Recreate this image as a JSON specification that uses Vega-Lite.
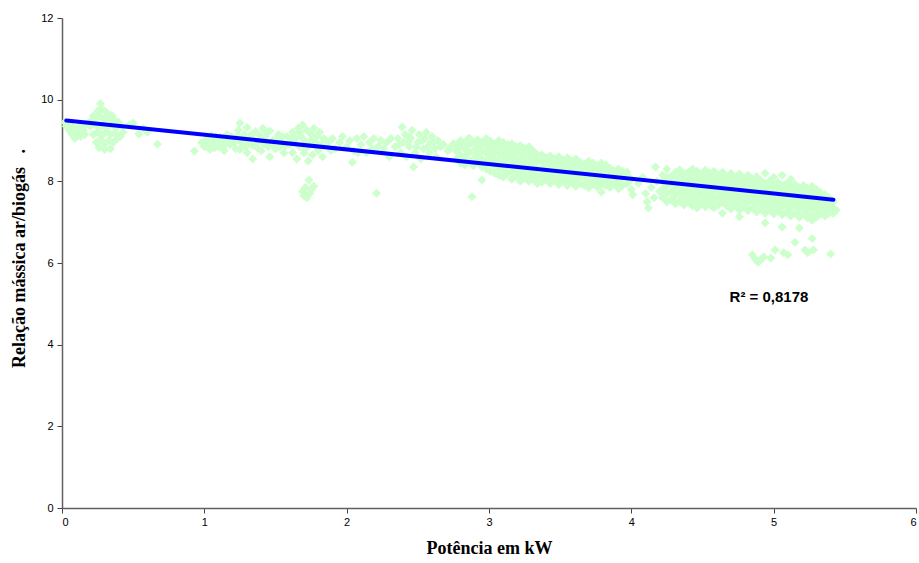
{
"$schema":"https://vega.github.io/schema/vega-lite/v6.json",
"width":854,"height":490,
"autosize":{"type":"none"},
"padding":{"left":62,"top":18,"right":3,"bottom":55},
"background":"white",
"config":{"view":{"stroke":null},"axis":{"grid":false,"domainColor":"#606060","domainWidth":1.5,"tickColor":"#404040","tickSize":5,"labelFont":"Liberation Sans","labelFontSize":11,"labelColor":"#000000","titleFont":"Liberation Serif","titleFontSize":18,"titleFontWeight":"bold","titleColor":"#000000"}},
"datasets":{
"pts":[
{"kw":0.02,"rel":9.45},{"kw":0.03,"rel":9.35},{"kw":0.05,"rel":9.25},{"kw":0.06,"rel":9.4},{"kw":0.07,"rel":9.15},{"kw":0.08,"rel":9.3},{"kw":0.1,"rel":9.2},{"kw":0.09,"rel":9.05},{"kw":0.12,"rel":9.35},{"kw":0.13,"rel":9.1},{"kw":0.15,"rel":9.25},{"kw":0.17,"rel":9.4},{"kw":0.16,"rel":9.15},
{"kw":0.27,"rel":9.9},{"kw":0.25,"rel":9.72},{"kw":0.28,"rel":9.78},{"kw":0.31,"rel":9.7},{"kw":0.22,"rel":9.6},{"kw":0.35,"rel":9.62},
{"kw":0.21,"rel":9.5},{"kw":0.24,"rel":9.55},{"kw":0.27,"rel":9.58},{"kw":0.3,"rel":9.52},{"kw":0.33,"rel":9.55},{"kw":0.37,"rel":9.5},{"kw":0.4,"rel":9.45},
{"kw":0.2,"rel":9.35},{"kw":0.23,"rel":9.4},{"kw":0.26,"rel":9.3},{"kw":0.29,"rel":9.38},{"kw":0.32,"rel":9.33},{"kw":0.35,"rel":9.4},{"kw":0.38,"rel":9.3},{"kw":0.42,"rel":9.35},
{"kw":0.22,"rel":9.15},{"kw":0.25,"rel":9.2},{"kw":0.28,"rel":9.12},{"kw":0.31,"rel":9.22},{"kw":0.34,"rel":9.15},{"kw":0.37,"rel":9.18},{"kw":0.41,"rel":9.1},{"kw":0.43,"rel":9.2},
{"kw":0.24,"rel":8.95},{"kw":0.27,"rel":9.02},{"kw":0.3,"rel":8.92},{"kw":0.33,"rel":9.0},{"kw":0.36,"rel":8.95},{"kw":0.39,"rel":9.05},
{"kw":0.26,"rel":8.82},{"kw":0.3,"rel":8.78},{"kw":0.34,"rel":8.8},
{"kw":0.47,"rel":9.38},{"kw":0.5,"rel":9.43},{"kw":0.54,"rel":9.16},{"kw":0.6,"rel":9.2},{"kw":0.57,"rel":9.3},{"kw":0.67,"rel":8.91},
{"kw":0.93,"rel":8.74},{"kw":0.98,"rel":8.95},{"kw":1.0,"rel":8.85},{"kw":1.02,"rel":9.05},{"kw":1.04,"rel":8.78},{"kw":1.06,"rel":8.95},{"kw":1.08,"rel":9.1},{"kw":1.1,"rel":8.85},{"kw":1.12,"rel":9.0},{"kw":1.14,"rel":8.75},{"kw":1.16,"rel":9.15},{"kw":1.18,"rel":8.9},{"kw":1.2,"rel":9.05},{"kw":1.22,"rel":8.8},{"kw":1.24,"rel":9.25},{"kw":1.25,"rel":9.43},{"kw":1.26,"rel":8.95},{"kw":1.28,"rel":9.15},{"kw":1.3,"rel":8.7},{"kw":1.3,"rel":9.32},{"kw":1.32,"rel":9.05},{"kw":1.34,"rel":8.55},{"kw":1.34,"rel":8.88},{"kw":1.36,"rel":9.22},{"kw":1.38,"rel":8.98},{"kw":1.4,"rel":8.75},{"kw":1.41,"rel":9.3},{"kw":1.43,"rel":9.1},{"kw":1.45,"rel":8.85},{"kw":1.46,"rel":9.23},{"kw":1.46,"rel":8.6},{"kw":1.48,"rel":9.0},{"kw":1.5,"rel":8.8},{"kw":1.52,"rel":9.15},{"kw":1.54,"rel":8.95},{"kw":1.56,"rel":8.7},{"kw":1.58,"rel":9.1},
{"kw":1.03,"rel":8.9},{"kw":1.07,"rel":8.82},{"kw":1.11,"rel":9.08},{"kw":1.15,"rel":8.92},{"kw":1.19,"rel":9.1},{"kw":1.21,"rel":8.95},{"kw":1.27,"rel":9.05},{"kw":1.29,"rel":8.85},{"kw":1.33,"rel":9.15},{"kw":1.37,"rel":8.82},{"kw":1.39,"rel":9.12},{"kw":1.42,"rel":8.92},{"kw":1.44,"rel":9.2},{"kw":1.47,"rel":8.9},{"kw":1.51,"rel":9.05},{"kw":1.53,"rel":8.85},{"kw":1.55,"rel":9.1},{"kw":1.57,"rel":8.88},{"kw":1.13,"rel":8.85},{"kw":1.17,"rel":9.0},{"kw":1.23,"rel":9.1},{"kw":1.31,"rel":8.95},{"kw":1.35,"rel":9.0},{"kw":1.25,"rel":8.78},{"kw":1.09,"rel":8.95},{"kw":1.05,"rel":9.12},{"kw":1.01,"rel":8.98},
{"kw":1.6,"rel":8.9},{"kw":1.62,"rel":9.2},{"kw":1.62,"rel":8.7},{"kw":1.64,"rel":9.05},{"kw":1.65,"rel":8.55},{"kw":1.66,"rel":9.3},{"kw":1.67,"rel":8.85},{"kw":1.68,"rel":9.1},{"kw":1.69,"rel":9.38},{"kw":1.7,"rel":8.7},{"kw":1.71,"rel":8.98},{"kw":1.72,"rel":9.25},{"kw":1.73,"rel":8.5},{"kw":1.74,"rel":8.88},{"kw":1.75,"rel":9.15},{"kw":1.76,"rel":8.65},{"kw":1.77,"rel":9.3},{"kw":1.78,"rel":8.95},{"kw":1.79,"rel":9.1},{"kw":1.8,"rel":8.75},{"kw":1.81,"rel":9.2},{"kw":1.82,"rel":8.9},{"kw":1.83,"rel":8.6},{"kw":1.84,"rel":9.05},{"kw":1.63,"rel":8.95},{"kw":1.67,"rel":9.2},{"kw":1.71,"rel":8.8},{"kw":1.75,"rel":9.0},{"kw":1.79,"rel":8.85},{"kw":1.61,"rel":9.05},
{"kw":1.69,"rel":7.75},{"kw":1.71,"rel":7.85},{"kw":1.72,"rel":7.6},{"kw":1.735,"rel":8.03},{"kw":1.75,"rel":7.8},{"kw":1.77,"rel":7.88},{"kw":1.7,"rel":7.65},{"kw":1.74,"rel":7.7},
{"kw":1.87,"rel":8.95},{"kw":1.9,"rel":9.05},{"kw":1.92,"rel":8.8},{"kw":1.95,"rel":8.95},{"kw":1.97,"rel":9.1},{"kw":2.0,"rel":8.85},{"kw":2.02,"rel":9.0},{"kw":2.04,"rel":8.47},{"kw":2.05,"rel":8.75},{"kw":2.07,"rel":9.05},{"kw":2.1,"rel":8.9},{"kw":2.12,"rel":9.1},{"kw":2.14,"rel":8.7},{"kw":2.16,"rel":8.95},{"kw":2.19,"rel":9.05},{"kw":2.21,"rel":7.71},{"kw":2.22,"rel":8.85},{"kw":2.24,"rel":9.0},{"kw":2.26,"rel":8.8},{"kw":2.28,"rel":8.95},{"kw":2.3,"rel":8.6},{"kw":2.31,"rel":9.05},{"kw":1.89,"rel":8.75},{"kw":2.08,"rel":8.7},{"kw":2.18,"rel":8.8},
{"kw":2.34,"rel":8.85},{"kw":2.36,"rel":9.05},{"kw":2.38,"rel":8.7},{"kw":2.39,"rel":9.33},{"kw":2.4,"rel":8.95},{"kw":2.41,"rel":9.15},{"kw":2.42,"rel":8.6},{"kw":2.44,"rel":8.85},{"kw":2.45,"rel":9.05},{"kw":2.46,"rel":9.25},{"kw":2.47,"rel":8.35},{"kw":2.48,"rel":8.7},{"kw":2.5,"rel":8.95},{"kw":2.51,"rel":9.15},{"kw":2.52,"rel":8.55},{"kw":2.54,"rel":8.8},{"kw":2.55,"rel":9.05},{"kw":2.56,"rel":9.2},{"kw":2.58,"rel":8.7},{"kw":2.59,"rel":8.95},{"kw":2.6,"rel":9.1},{"kw":2.62,"rel":8.8},{"kw":2.63,"rel":8.6},{"kw":2.64,"rel":9.0},{"kw":2.66,"rel":8.85},{"kw":2.43,"rel":8.95},{"kw":2.49,"rel":8.85},{"kw":2.53,"rel":9.0},{"kw":2.57,"rel":8.85},{"kw":2.61,"rel":8.95},{"kw":2.37,"rel":8.9},{"kw":2.44,"rel":9.1},
{"kw":2.68,"rel":8.9},{"kw":2.71,"rel":8.75},{"kw":2.73,"rel":8.84},{"kw":2.75,"rel":8.92},
{"kw":2.77,"rel":8.55},{"kw":2.77,"rel":8.75},{"kw":2.77,"rel":8.9},
{"kw":2.8,"rel":8.45},{"kw":2.8,"rel":8.65},{"kw":2.8,"rel":8.85},{"kw":2.8,"rel":9.0},
{"kw":2.83,"rel":8.4},{"kw":2.83,"rel":8.6},{"kw":2.83,"rel":8.8},{"kw":2.83,"rel":8.95},
{"kw":2.86,"rel":8.5},{"kw":2.86,"rel":8.7},{"kw":2.86,"rel":8.9},{"kw":2.86,"rel":9.06},
{"kw":2.89,"rel":8.38},{"kw":2.89,"rel":8.55},{"kw":2.89,"rel":8.75},{"kw":2.89,"rel":8.95},
{"kw":2.92,"rel":8.45},{"kw":2.92,"rel":8.65},{"kw":2.92,"rel":8.85},{"kw":2.92,"rel":9.02},
{"kw":2.95,"rel":8.03},{"kw":2.95,"rel":8.35},{"kw":2.95,"rel":8.55},{"kw":2.95,"rel":8.75},{"kw":2.95,"rel":8.95},
{"kw":2.98,"rel":8.3},{"kw":2.98,"rel":8.5},{"kw":2.98,"rel":8.7},{"kw":2.98,"rel":8.88},{"kw":2.98,"rel":9.05},
{"kw":3.01,"rel":8.25},{"kw":3.01,"rel":8.45},{"kw":3.01,"rel":8.62},{"kw":3.01,"rel":8.8},{"kw":3.01,"rel":8.98},
{"kw":3.04,"rel":8.2},{"kw":3.04,"rel":8.38},{"kw":3.04,"rel":8.55},{"kw":3.04,"rel":8.72},{"kw":3.04,"rel":8.9},
{"kw":3.07,"rel":8.15},{"kw":3.07,"rel":8.32},{"kw":3.07,"rel":8.5},{"kw":3.07,"rel":8.68},{"kw":3.07,"rel":8.85},{"kw":3.07,"rel":9.0},
{"kw":3.1,"rel":8.1},{"kw":3.1,"rel":8.28},{"kw":3.1,"rel":8.45},{"kw":3.1,"rel":8.62},{"kw":3.1,"rel":8.8},{"kw":3.1,"rel":8.95},
{"kw":3.13,"rel":8.2},{"kw":3.13,"rel":8.38},{"kw":3.13,"rel":8.55},{"kw":3.13,"rel":8.72},{"kw":3.13,"rel":8.9},
{"kw":3.16,"rel":8.05},{"kw":3.16,"rel":8.25},{"kw":3.16,"rel":8.42},{"kw":3.16,"rel":8.6},{"kw":3.16,"rel":8.78},{"kw":3.16,"rel":8.92},
{"kw":3.19,"rel":8.12},{"kw":3.19,"rel":8.3},{"kw":3.19,"rel":8.5},{"kw":3.19,"rel":8.68},{"kw":3.19,"rel":8.85},
{"kw":3.22,"rel":8.0},{"kw":3.22,"rel":8.2},{"kw":3.22,"rel":8.38},{"kw":3.22,"rel":8.55},{"kw":3.22,"rel":8.72},{"kw":3.22,"rel":8.88},
{"kw":3.25,"rel":8.08},{"kw":3.25,"rel":8.25},{"kw":3.25,"rel":8.45},{"kw":3.25,"rel":8.62},{"kw":3.25,"rel":8.8},
{"kw":3.28,"rel":8.0},{"kw":3.28,"rel":8.15},{"kw":3.28,"rel":8.33},{"kw":3.28,"rel":8.5},{"kw":3.28,"rel":8.68},{"kw":3.28,"rel":8.85},
{"kw":3.31,"rel":8.05},{"kw":3.31,"rel":8.22},{"kw":3.31,"rel":8.4},{"kw":3.31,"rel":8.58},{"kw":3.31,"rel":8.75},
{"kw":3.34,"rel":7.95},{"kw":3.34,"rel":8.12},{"kw":3.34,"rel":8.3},{"kw":3.34,"rel":8.48},{"kw":3.34,"rel":8.65},
{"kw":2.88,"rel":7.62},
{"kw":3.37,"rel":7.98},{"kw":3.37,"rel":8.15},{"kw":3.37,"rel":8.32},{"kw":3.37,"rel":8.5},{"kw":3.37,"rel":8.65},
{"kw":3.4,"rel":8.05},{"kw":3.4,"rel":8.22},{"kw":3.4,"rel":8.4},{"kw":3.4,"rel":8.58},
{"kw":3.43,"rel":7.95},{"kw":3.43,"rel":8.12},{"kw":3.43,"rel":8.3},{"kw":3.43,"rel":8.48},{"kw":3.43,"rel":8.62},
{"kw":3.46,"rel":8.02},{"kw":3.46,"rel":8.2},{"kw":3.46,"rel":8.38},{"kw":3.46,"rel":8.55},
{"kw":3.49,"rel":7.92},{"kw":3.49,"rel":8.1},{"kw":3.49,"rel":8.28},{"kw":3.49,"rel":8.45},{"kw":3.49,"rel":8.6},
{"kw":3.52,"rel":8.0},{"kw":3.52,"rel":8.18},{"kw":3.52,"rel":8.35},{"kw":3.52,"rel":8.52},
{"kw":3.55,"rel":7.9},{"kw":3.55,"rel":8.08},{"kw":3.55,"rel":8.25},{"kw":3.55,"rel":8.42},{"kw":3.55,"rel":8.58},
{"kw":3.58,"rel":7.98},{"kw":3.58,"rel":8.15},{"kw":3.58,"rel":8.32},{"kw":3.58,"rel":8.5},
{"kw":3.61,"rel":7.88},{"kw":3.61,"rel":8.05},{"kw":3.61,"rel":8.22},{"kw":3.61,"rel":8.4},{"kw":3.61,"rel":8.55},
{"kw":3.64,"rel":7.95},{"kw":3.64,"rel":8.12},{"kw":3.64,"rel":8.3},{"kw":3.64,"rel":8.47},
{"kw":3.67,"rel":7.9},{"kw":3.67,"rel":8.08},{"kw":3.67,"rel":8.25},{"kw":3.67,"rel":8.42},
{"kw":3.7,"rel":7.84},{"kw":3.7,"rel":8.0},{"kw":3.7,"rel":8.18},{"kw":3.7,"rel":8.35},{"kw":3.7,"rel":8.5},
{"kw":3.73,"rel":7.92},{"kw":3.73,"rel":8.1},{"kw":3.73,"rel":8.28},{"kw":3.73,"rel":8.45},
{"kw":3.76,"rel":7.86},{"kw":3.76,"rel":8.02},{"kw":3.76,"rel":8.2},{"kw":3.76,"rel":8.38},
{"kw":3.79,"rel":7.74},{"kw":3.79,"rel":7.95},{"kw":3.79,"rel":8.12},{"kw":3.79,"rel":8.3},{"kw":3.79,"rel":8.45},
{"kw":3.82,"rel":7.9},{"kw":3.82,"rel":8.05},{"kw":3.82,"rel":8.22},{"kw":3.82,"rel":8.4},
{"kw":3.85,"rel":7.85},{"kw":3.85,"rel":8.0},{"kw":3.85,"rel":8.15},{"kw":3.85,"rel":8.32},
{"kw":3.88,"rel":7.92},{"kw":3.88,"rel":8.08},{"kw":3.88,"rel":8.25},
{"kw":3.91,"rel":7.82},{"kw":3.91,"rel":8.0},{"kw":3.91,"rel":8.18},{"kw":3.91,"rel":8.3},
{"kw":3.94,"rel":7.9},{"kw":3.94,"rel":8.1},{"kw":3.94,"rel":8.25},
{"kw":3.97,"rel":7.95},{"kw":3.97,"rel":8.15},{"kw":3.97,"rel":8.23},
{"kw":4.0,"rel":7.8},{"kw":4.0,"rel":8.05},
{"kw":4.01,"rel":7.67},{"kw":4.05,"rel":7.95},{"kw":4.08,"rel":8.1},{"kw":4.1,"rel":7.7},{"kw":4.11,"rel":7.5},{"kw":4.12,"rel":7.35},{"kw":4.14,"rel":7.85},{"kw":4.17,"rel":8.35},{"kw":4.18,"rel":8.0},{"kw":4.2,"rel":7.75},{"kw":4.16,"rel":7.6},
{"kw":4.22,"rel":7.6},{"kw":4.22,"rel":7.8},{"kw":4.22,"rel":8.0},{"kw":4.22,"rel":8.15},
{"kw":4.25,"rel":7.5},{"kw":4.25,"rel":7.7},{"kw":4.25,"rel":7.9},{"kw":4.25,"rel":8.1},{"kw":4.25,"rel":8.3},
{"kw":4.28,"rel":7.55},{"kw":4.28,"rel":7.75},{"kw":4.28,"rel":7.95},{"kw":4.28,"rel":8.12},
{"kw":4.31,"rel":7.45},{"kw":4.31,"rel":7.65},{"kw":4.31,"rel":7.85},{"kw":4.31,"rel":8.05},{"kw":4.31,"rel":8.22},
{"kw":4.34,"rel":7.52},{"kw":4.34,"rel":7.72},{"kw":4.34,"rel":7.92},{"kw":4.34,"rel":8.1},{"kw":4.34,"rel":8.28},
{"kw":4.37,"rel":7.42},{"kw":4.37,"rel":7.62},{"kw":4.37,"rel":7.82},{"kw":4.37,"rel":8.0},{"kw":4.37,"rel":8.18},
{"kw":4.4,"rel":7.5},{"kw":4.4,"rel":7.7},{"kw":4.4,"rel":7.88},{"kw":4.4,"rel":8.05},{"kw":4.4,"rel":8.22},
{"kw":4.43,"rel":7.4},{"kw":4.43,"rel":7.6},{"kw":4.43,"rel":7.8},{"kw":4.43,"rel":7.98},{"kw":4.43,"rel":8.15},{"kw":4.43,"rel":8.3},
{"kw":4.46,"rel":7.35},{"kw":4.46,"rel":7.52},{"kw":4.46,"rel":7.72},{"kw":4.46,"rel":7.9},{"kw":4.46,"rel":8.08},{"kw":4.46,"rel":8.25},
{"kw":4.49,"rel":7.45},{"kw":4.49,"rel":7.65},{"kw":4.49,"rel":7.83},{"kw":4.49,"rel":8.0},{"kw":4.49,"rel":8.18},
{"kw":4.52,"rel":7.38},{"kw":4.52,"rel":7.55},{"kw":4.52,"rel":7.75},{"kw":4.52,"rel":7.93},{"kw":4.52,"rel":8.12},{"kw":4.52,"rel":8.28},
{"kw":4.55,"rel":7.45},{"kw":4.55,"rel":7.65},{"kw":4.55,"rel":7.85},{"kw":4.55,"rel":8.02},{"kw":4.55,"rel":8.2},
{"kw":4.58,"rel":7.35},{"kw":4.58,"rel":7.55},{"kw":4.58,"rel":7.75},{"kw":4.58,"rel":7.95},{"kw":4.58,"rel":8.12},{"kw":4.58,"rel":8.25},
{"kw":4.61,"rel":7.42},{"kw":4.61,"rel":7.62},{"kw":4.61,"rel":7.8},{"kw":4.61,"rel":8.0},{"kw":4.61,"rel":8.15},
{"kw":4.64,"rel":7.22},{"kw":4.64,"rel":7.5},{"kw":4.64,"rel":7.7},{"kw":4.64,"rel":7.88},{"kw":4.64,"rel":8.05},{"kw":4.64,"rel":8.22},
{"kw":4.67,"rel":7.4},{"kw":4.67,"rel":7.6},{"kw":4.67,"rel":7.78},{"kw":4.67,"rel":7.95},{"kw":4.67,"rel":8.12},
{"kw":4.7,"rel":7.32},{"kw":4.7,"rel":7.52},{"kw":4.7,"rel":7.7},{"kw":4.7,"rel":7.88},{"kw":4.7,"rel":8.05},{"kw":4.7,"rel":8.2},
{"kw":4.73,"rel":7.4},{"kw":4.73,"rel":7.6},{"kw":4.73,"rel":7.78},{"kw":4.73,"rel":7.95},{"kw":4.73,"rel":8.1},
{"kw":4.76,"rel":7.13},{"kw":4.76,"rel":7.3},{"kw":4.76,"rel":7.5},{"kw":4.76,"rel":7.68},{"kw":4.76,"rel":7.85},{"kw":4.76,"rel":8.02},{"kw":4.76,"rel":8.18},
{"kw":4.79,"rel":7.38},{"kw":4.79,"rel":7.58},{"kw":4.79,"rel":7.75},{"kw":4.79,"rel":7.92},{"kw":4.79,"rel":8.08},
{"kw":4.82,"rel":7.28},{"kw":4.82,"rel":7.48},{"kw":4.82,"rel":7.65},{"kw":4.82,"rel":7.82},{"kw":4.82,"rel":8.0},{"kw":4.82,"rel":8.15},
{"kw":4.85,"rel":7.35},{"kw":4.85,"rel":7.55},{"kw":4.85,"rel":7.72},{"kw":4.85,"rel":7.9},{"kw":4.85,"rel":8.05},
{"kw":4.88,"rel":7.25},{"kw":4.88,"rel":7.45},{"kw":4.88,"rel":7.62},{"kw":4.88,"rel":7.8},{"kw":4.88,"rel":7.98},{"kw":4.88,"rel":8.12},
{"kw":4.91,"rel":7.32},{"kw":4.91,"rel":7.52},{"kw":4.91,"rel":7.7},{"kw":4.91,"rel":7.88},{"kw":4.91,"rel":8.02},
{"kw":4.94,"rel":6.98},{"kw":4.94,"rel":7.22},{"kw":4.94,"rel":7.42},{"kw":4.94,"rel":7.6},{"kw":4.94,"rel":7.78},{"kw":4.94,"rel":7.95},{"kw":4.94,"rel":8.2},
{"kw":4.97,"rel":7.3},{"kw":4.97,"rel":7.5},{"kw":4.97,"rel":7.68},{"kw":4.97,"rel":7.85},{"kw":4.97,"rel":8.0},
{"kw":5.0,"rel":7.2},{"kw":5.0,"rel":7.4},{"kw":5.0,"rel":7.58},{"kw":5.0,"rel":7.75},{"kw":5.0,"rel":7.92},{"kw":5.0,"rel":8.1},
{"kw":5.03,"rel":7.28},{"kw":5.03,"rel":7.48},{"kw":5.03,"rel":7.65},{"kw":5.03,"rel":7.82},{"kw":5.03,"rel":7.98},
{"kw":5.06,"rel":6.88},{"kw":5.06,"rel":7.18},{"kw":5.06,"rel":7.38},{"kw":5.06,"rel":7.55},{"kw":5.06,"rel":7.72},{"kw":5.06,"rel":7.9},{"kw":5.06,"rel":8.15},
{"kw":5.09,"rel":7.25},{"kw":5.09,"rel":7.45},{"kw":5.09,"rel":7.62},{"kw":5.09,"rel":7.8},{"kw":5.09,"rel":7.95},
{"kw":5.12,"rel":7.15},{"kw":5.12,"rel":7.35},{"kw":5.12,"rel":7.52},{"kw":5.12,"rel":7.7},{"kw":5.12,"rel":7.88},{"kw":5.12,"rel":8.05},
{"kw":5.15,"rel":6.51},{"kw":5.15,"rel":7.22},{"kw":5.15,"rel":7.42},{"kw":5.15,"rel":7.6},{"kw":5.15,"rel":7.78},{"kw":5.15,"rel":7.92},
{"kw":5.18,"rel":6.86},{"kw":5.18,"rel":7.12},{"kw":5.18,"rel":7.32},{"kw":5.18,"rel":7.5},{"kw":5.18,"rel":7.68},{"kw":5.18,"rel":7.85},
{"kw":5.21,"rel":7.2},{"kw":5.21,"rel":7.4},{"kw":5.21,"rel":7.58},{"kw":5.21,"rel":7.75},{"kw":5.21,"rel":7.9},
{"kw":5.24,"rel":7.1},{"kw":5.24,"rel":7.3},{"kw":5.24,"rel":7.48},{"kw":5.24,"rel":7.65},{"kw":5.24,"rel":7.82},
{"kw":5.27,"rel":6.6},{"kw":5.27,"rel":7.05},{"kw":5.27,"rel":7.18},{"kw":5.27,"rel":7.38},{"kw":5.27,"rel":7.55},{"kw":5.27,"rel":7.72},{"kw":5.27,"rel":7.88},
{"kw":5.3,"rel":7.12},{"kw":5.3,"rel":7.3},{"kw":5.3,"rel":7.48},{"kw":5.3,"rel":7.65},{"kw":5.3,"rel":7.8},
{"kw":5.33,"rel":7.2},{"kw":5.33,"rel":7.4},{"kw":5.33,"rel":7.58},{"kw":5.33,"rel":7.72},
{"kw":5.36,"rel":7.15},{"kw":5.36,"rel":7.32},{"kw":5.36,"rel":7.5},{"kw":5.36,"rel":7.68},
{"kw":5.39,"rel":7.22},{"kw":5.39,"rel":7.42},{"kw":5.39,"rel":7.6},
{"kw":5.42,"rel":7.22},{"kw":5.42,"rel":7.35},{"kw":5.42,"rel":7.5},{"kw":5.44,"rel":7.3},
{"kw":4.85,"rel":6.2},{"kw":4.87,"rel":6.1},{"kw":4.89,"rel":6.02},{"kw":4.91,"rel":6.08},{"kw":4.93,"rel":6.15},{"kw":4.98,"rel":6.12},{"kw":5.01,"rel":6.32},{"kw":5.07,"rel":6.25},{"kw":5.1,"rel":6.2},{"kw":5.22,"rel":6.32},{"kw":5.24,"rel":6.25},{"kw":5.28,"rel":6.32},{"kw":5.4,"rel":6.22}
],
"fit":[{"kw":0.03,"rel":9.49},{"kw":5.42,"rel":7.55}],
"label":[{"kw":4.69,"rel":5.17,"txt":"R² = 0,8178"}]
},
"layer":[
{"data":{"name":"pts"},"mark":{"type":"point","shape":"diamond","filled":true,"color":"#CCFFCC","opacity":1,"size":81},
 "encoding":{
  "x":{"field":"kw","type":"quantitative","scale":{"domain":[0,6],"nice":false,"zero":false},"axis":{"values":[0,1,2,3,4,5,6],"format":"d","title":"Potência em kW","titlePadding":12,"labelPadding":3}},
  "y":{"field":"rel","type":"quantitative","scale":{"domain":[0,12],"nice":false,"zero":false},"axis":{"values":[0,2,4,6,8,10,12],"format":"d","title":"Relação mássica ar/biogás\u00a0\u00a0\u00a0.","titlePadding":12,"labelPadding":4,"titleY":240}}
 }},
{"data":{"name":"fit"},"mark":{"type":"line","color":"#0000FF","strokeWidth":4,"strokeCap":"round"},
 "encoding":{"x":{"field":"kw","type":"quantitative"},"y":{"field":"rel","type":"quantitative"}}},
{"data":{"name":"label"},"mark":{"type":"text","align":"left","baseline":"middle","font":"Liberation Sans","fontWeight":"bold","fontSize":15,"color":"#000000"},
 "encoding":{"x":{"field":"kw","type":"quantitative"},"y":{"field":"rel","type":"quantitative"},"text":{"field":"txt"}}}
]
}
